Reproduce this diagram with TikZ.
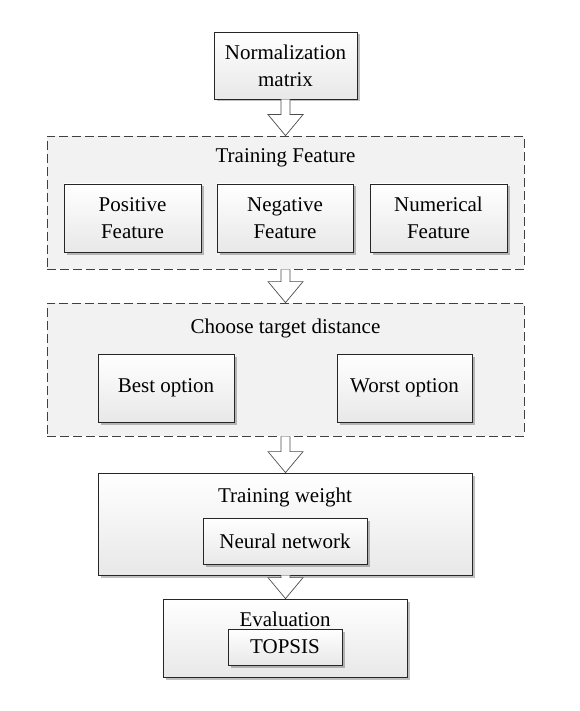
\documentclass[tikz,border=0pt]{standalone}
\usepackage{fontspec}
\setmainfont{Liberation Serif}
\newfontfamily\tnr{Liberation Serif}
\usetikzlibrary{calc,shadows}
\begin{document}
\begin{tikzpicture}[x=1pt,y=-1pt,
  box/.style={draw=black!85, line width=0.8pt, top color=white, bottom color=black!9,
    inner sep=0pt, align=center, font=\tnr\fontsize{21}{27}\selectfont,
    drop shadow={shadow xshift=2.5pt, shadow yshift=-2.5pt, fill=black, opacity=0.25}},
  group/.style={draw=black!75, line width=0.8pt, dash pattern=on 9pt off 4pt, fill=black!5, inner sep=0pt},
  title/.style={font=\tnr\fontsize{21}{27}\selectfont, inner sep=0pt},
  harrow/.style={draw=black!70, line width=0.7pt, fill=white, line join=miter}
]
\useasboundingbox (0,0) rectangle (579,711);
% groups
\node[group, minimum width=477pt, minimum height=133pt] (tf) at (285.5,202.5) {};
\node[group, minimum width=477pt, minimum height=133pt] (ctd) at (285.5,369.5) {};
% nodes
\node[box, minimum width=143pt, minimum height=67pt] (norm) at (285.5,65.5) {Normalization\\matrix};
\node[title] (tft) at (285.5,158) {Training Feature};
\node[box, minimum width=137pt, minimum height=68pt] (pos) at (132.5,218) {Positive\\Feature};
\node[box, minimum width=136pt, minimum height=68pt] (neg) at (285,218) {Negative\\Feature};
\node[box, minimum width=137pt, minimum height=68pt] (num) at (438.5,218) {Numerical\\Feature};
\node[title] (ctdt) at (285.5,328) {Choose target distance};
\node[box, minimum width=136pt, minimum height=68pt] (best) at (166,388) {Best option};
\node[box, minimum width=135pt, minimum height=68pt] (worst) at (404.5,388) {Worst option};
\node[box, minimum width=374pt, minimum height=102pt] (tw) at (285,524) {};
\node[title] (twt) at (285,497) {Training weight};
\node[box, minimum width=164pt, minimum height=46pt] (nn) at (285,541) {Neural network};
\node[box, minimum width=244pt, minimum height=78pt] (ev) at (285,638) {};
\node[title] (evt) at (285,619) {Evaluation};
\node[box, minimum width=114pt, minimum height=36pt] (top) at (285,647) {TOPSIS};
% hollow arrows
\foreach \a/\b in {norm/tf, tf/ctd, ctd/tw, tw/ev}{
  \path let \p1=(\a.south), \p2=(\b.north) in
    coordinate (s) at (285.5,\y1) coordinate (t) at (285.5,\y2);
  \draw[harrow] ($(s)+(-4.5,0)$) -- ($(t)+(-4.5,-21)$) -- ($(t)+(-17.5,-21)$) -- (t)
     -- ($(t)+(17.5,-21)$) -- ($(t)+(4.5,-21)$) -- ($(s)+(4.5,0)$);
}
\end{tikzpicture}
\end{document}
